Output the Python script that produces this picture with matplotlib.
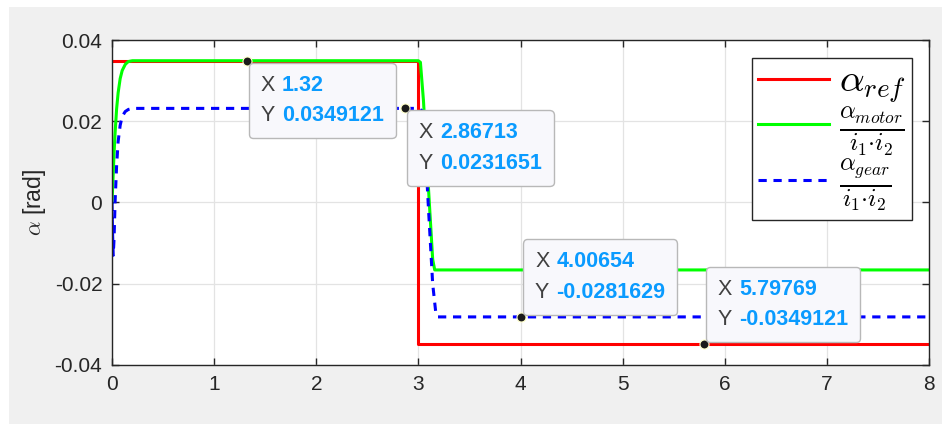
import matplotlib
matplotlib.use("Agg")
import matplotlib.pyplot as plt
from matplotlib.patches import Rectangle
from matplotlib.lines import Line2D
from matplotlib.offsetbox import TextArea, HPacker, VPacker, AnnotationBbox

plt.rcParams['font.family'] = ['Liberation Sans', 'DejaVu Sans']
plt.rcParams['mathtext.fontset'] = 'cm'
plt.rcParams['axes.unicode_minus'] = False

# reference angle
t_ref = [0, 3.0, 3.0, 8]
a_ref = [0.0349121, 0.0349121, -0.0349121, -0.0349121]

# motor angle / (i1*i2)
t_motor = [0, 0.01, 0.02, 0.03, 0.045, 0.06, 0.08, 0.1, 0.13, 0.16, 0.2, 3.0, 3.02, 3.05, 3.1, 3.14, 3.16, 8]
a_motor = [0, 0.006, 0.012, 0.017, 0.023, 0.027, 0.0305, 0.0325, 0.0340, 0.0347, 0.0349, 0.0349, 0.0345, 0.025, 0.003, -0.014, -0.0166, -0.0166]

# gear angle / (i1*i2)
t_gear = [0, 0.005, 0.012, 0.02, 0.03, 0.045, 0.06, 0.08, 0.1, 0.13, 0.16, 0.2, 3.0, 3.04, 3.07, 3.1, 3.14, 3.17, 3.19, 8]
a_gear = [0, -0.007, -0.013, -0.009, 0.0, 0.009, 0.015, 0.019, 0.0212, 0.0224, 0.0229, 0.0231651, 0.0231651, 0.0225, 0.012, -0.002, -0.020, -0.027, -0.0281629, -0.0281629]

# data tips
tip_x = [1.32, 2.86713, 4.00654, 5.79769]
tip_y = [0.0349121, 0.0231651, -0.0281629, -0.0349121]
tip_xs = ["1.32", "2.86713", "4.00654", "5.79769"]
tip_ys = ["0.0349121", "0.0231651", "-0.0281629", "-0.0349121"]
tip_below = [True, True, False, False]

xticks = [0, 1, 2, 3, 4, 5, 6, 7, 8]
yticks = [-0.04, -0.02, 0, 0.02, 0.04]
ylabels = ["-0.04", "-0.02", "0", "0.02", "0.04"]

W, H = 942, 424
fig = plt.figure(figsize=(W / 100, H / 100), dpi=100, facecolor='white')
fig.add_artist(Rectangle((9 / W, 0), (W - 9) / W, (H - 7) / H, transform=fig.transFigure,
                         facecolor='#f0f0f0', edgecolor='none', zorder=-10))

ax = fig.add_axes([112 / W, 1 - 365 / H, (929 - 112) / W, (365 - 40) / H])
ax.set_facecolor('white')

ax.plot(t_ref, a_ref, color='#ff0000', lw=2.2)
ax.plot(t_motor, a_motor, color='#00ff00', lw=2.2)
ax.plot(t_gear, a_gear, color='#0000ff', lw=2.2, ls=(0, (2.7, 2.2)))

ax.set_xlim(0, 8)
ax.set_ylim(-0.04, 0.04)
ax.set_xticks(xticks)
ax.set_xticklabels([str(v) for v in xticks])
ax.set_yticks(yticks)
ax.set_yticklabels(ylabels)
ax.grid(True, color='#e3e3e3', lw=0.9)
ax.set_axisbelow(True)
ax.tick_params(direction='in', length=5, width=1, colors='#262626', labelsize=15,
               top=True, right=True, pad=7)
for s in ax.spines.values():
    s.set_color('#262626')
    s.set_linewidth(1)
ax.set_ylabel(r'$\alpha$ [rad]', fontsize=16.5, color='#262626', labelpad=5)

handles = [Line2D([], [], color='#ff0000', lw=2.2),
           Line2D([], [], color='#00ff00', lw=2.2),
           Line2D([], [], color='#0000ff', lw=2.2, ls=(0, (2.7, 2.2)))]
labels = [r'$\alpha_{ref}$', r'$\frac{\alpha_{motor}}{i_1{\cdot}i_2}$', r'$\frac{\alpha_{gear}}{i_1{\cdot}i_2}$']
leg = ax.legend(handles, labels, loc='upper right', bbox_to_anchor=(1 - 17 / 817, 1 - 18 / 325),
                borderaxespad=0, fontsize=27, handlelength=1.88, handletextpad=0.29,
                labelspacing=0.0, fancybox=False, framealpha=1, edgecolor='#262626',
                borderpad=0.15)
leg.get_frame().set_linewidth(1)
leg_sizes = [28, 25.5, 25.5]
for txt, fs in zip(leg.get_texts(), leg_sizes):
    txt.set_fontsize(fs)

for x, y, xs, ys, below in zip(tip_x, tip_y, tip_xs, tip_ys, tip_below):
    ax.plot(x, y, 'o', ms=6.5, mfc='#1a1a1a', mec='#ffffc8', mew=0.8, zorder=6)
    rows = []
    for lab, val in (("X", xs), ("Y", ys)):
        rows.append(HPacker(children=[
            TextArea(lab, textprops=dict(color='#404040', fontsize=15.5)),
            TextArea(val, textprops=dict(color='#0a9bff', fontsize=15.5, fontweight='bold'))],
            align='baseline', pad=0, sep=5))
    box = VPacker(children=rows, align='left', pad=8.5, sep=7)
    if below:
        off, align = (1.5, -1.5), (0, 1)
    else:
        off, align = (1.5, 1.5), (0, 0)
    ab = AnnotationBbox(box, (x, y), xybox=off, boxcoords='offset points',
                        box_alignment=align, pad=0, frameon=True, zorder=7,
                        bboxprops=dict(boxstyle='round,pad=0,rounding_size=0.3',
                                       facecolor='#f8f8fc', edgecolor='#b8b8b8', lw=1))
    ax.add_artist(ab)

fig.savefig('out.png', dpi=100, facecolor=fig.get_facecolor())
